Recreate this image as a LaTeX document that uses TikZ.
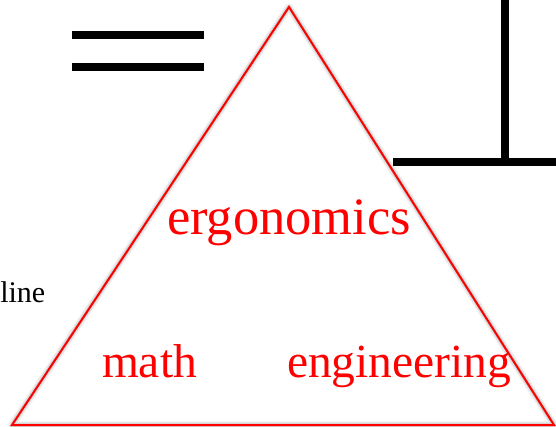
\documentclass[tikz,border=0pt]{standalone}
\usepackage{fontspec}
\setmainfont{Liberation Serif}
\begin{document}
\begin{tikzpicture}[x=1pt,y=-1pt,
  redtext/.style={text=red,inner sep=0pt,outer sep=0pt},
  tri/.style={draw=red,line width=2pt,line join=miter},
  trishadow/.style={draw=black,line join=round},
  blackbar/.style={draw=black,line width=8.5pt},
  blackbarthin/.style={draw=black,line width=8pt}]
\useasboundingbox (0,0) rectangle (556,427);
\clip (0,0) rectangle (556,427);
% triangle corners
\coordinate (top) at (289,7);
\coordinate (br) at (554,425);
\coordinate (bl) at (12,425);
% shadow of the outline
\begin{scope}[shift={(4,3)}]
  \draw[trishadow,line width=8pt,opacity=0.04] (top) -- (br) -- (bl) -- cycle;
  \draw[trishadow,line width=6pt,opacity=0.06] (top) -- (br) -- (bl) -- cycle;
  \draw[trishadow,line width=4pt,opacity=0.08] (top) -- (br) -- (bl) -- cycle;
  \draw[trishadow,line width=2pt,opacity=0.08] (top) -- (br) -- (bl) -- cycle;
\end{scope}
\draw[tri] (top) -- (br) -- (bl) -- cycle;
% equals sign
\coordinate (e1a) at (72,35);
\coordinate (e1b) at (204,35);
\coordinate (e2a) at (72,67);
\coordinate (e2b) at (204,67);
\draw[blackbar] (e1a) -- (e1b);
\draw[blackbar] (e2a) -- (e2b);
% T-shaped lines
\coordinate (vt) at (505,-5);
\coordinate (vb) at (505,162.5);
\coordinate (hl) at (393,162.5);
\coordinate (hr) at (560,162.5);
\draw[blackbarthin] (vt) -- (vb);
\draw[blackbarthin] (hl) -- (hr);
% texts
\node[redtext,anchor=base west,font=\fontsize{52.5}{52.5}\selectfont] (ergo) at (167,235) {ergonomics};
\node[redtext,anchor=base west,font=\fontsize{47.5}{47.5}\selectfont] (math) at (102,377) {math};
\node[redtext,anchor=base west,font=\fontsize{47.5}{47.5}\selectfont] (eng) at (287,377) {engineering};
\node[inner sep=0pt,anchor=base east,font=\fontsize{30}{30}\selectfont] (line) at (45.5,302) {line};
\end{tikzpicture}
\end{document}
